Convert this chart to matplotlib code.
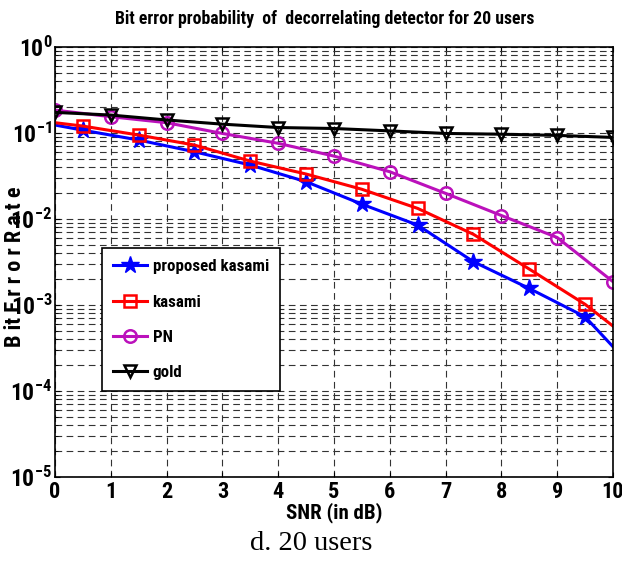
import numpy as np
import matplotlib
matplotlib.use('Agg')
import matplotlib.pyplot as plt
from matplotlib import font_manager
from matplotlib.ticker import FixedLocator, FuncFormatter, LogLocator, NullFormatter

# look for a narrow / condensed sans (the MATLAB export uses Arial Narrow-ish text)
narrow = None
stretch = 'normal'
flist = font_manager.fontManager.ttflist
for want in ['Liberation Sans Narrow', 'Roboto Condensed', 'Open Sans Condensed',
             'Noto Sans Condensed', 'DejaVu Sans Condensed']:
    if any(f.name == want for f in flist):
        narrow = want
        break
if narrow is None:
    for fam in ['Noto Sans', 'Roboto', 'Open Sans', 'DejaVu Sans']:
        if any(f.name == fam and f.stretch in ('condensed', 'semi-condensed')
               for f in flist):
            narrow = fam
            stretch = 'condensed'
            break
if narrow is None:
    narrow = 'Liberation Sans'
    scale = 0.82
else:
    scale = 1.0

plt.rcParams['font.family'] = [narrow, 'DejaVu Sans']
plt.rcParams['font.stretch'] = stretch
plt.rcParams['font.weight'] = 'bold'
plt.rcParams['mathtext.fontset'] = 'custom'
plt.rcParams['mathtext.rm'] = narrow
plt.rcParams['mathtext.bf'] = narrow + ':bold'

# data
snr_half = [0, 0.5, 1.5, 2.5, 3.5, 4.5, 5.5, 6.5, 7.5, 8.5, 9.5, 10]
snr_int = [0, 1, 2, 3, 4, 5, 6, 7, 8, 9, 10]
ber_proposed = [0.124, 0.108, 0.083, 0.0606, 0.0425, 0.0272, 0.0149, 0.0085,
                0.00319, 0.00156, 0.00073, 0.000328]
ber_kasami = [0.132, 0.1206, 0.0948, 0.0725, 0.0472, 0.0334, 0.0222, 0.0133,
              0.00664, 0.00262, 0.00102, 0.00057]
ber_pn = [0.185, 0.155, 0.132, 0.099, 0.076, 0.054, 0.0355, 0.0199, 0.011,
          0.0061, 0.00187]
ber_gold = [0.174, 0.162, 0.142, 0.127, 0.116, 0.113, 0.106, 0.099, 0.097,
            0.094, 0.089]
labels = ['proposed kasami', 'kasami', 'PN', 'gold']

fig = plt.figure(figsize=(6.22, 5.72), dpi=100)
ax = fig.add_axes([0.0884, 0.166, 0.8971, 0.7517])

lw = 2.2
ax.semilogy(snr_half, ber_proposed, color='blue', lw=lw, marker='*', ms=13,
            markevery=list(range(1, 11)), mec='blue', mfc='blue', label=labels[0])
ax.semilogy(snr_half, ber_kasami, color='red', lw=lw, marker='s', ms=9,
            markevery=list(range(1, 11)), mec='red', mfc='none', mew=1.8, label=labels[1])
ax.semilogy(snr_int, ber_pn, color='#BB11BB', lw=lw, marker='o', ms=9,
            mec='#BB11BB', mfc='none', mew=1.8, label=labels[2])
ax.semilogy(snr_int, ber_gold, color='black', lw=lw, marker='v', ms=9,
            mec='black', mfc='none', mew=1.8, label=labels[3])

ax.set_xlim(0, 10)
ax.set_ylim(1e-5, 1e0)
ax.xaxis.set_major_locator(FixedLocator(range(0, 11)))
ax.yaxis.set_major_locator(LogLocator(base=10, numticks=10))
ax.yaxis.set_minor_locator(LogLocator(base=10, subs=np.arange(2, 10), numticks=20))
ax.yaxis.set_minor_formatter(NullFormatter())
ax.yaxis.set_major_formatter(FuncFormatter(
    lambda v, p: r'$\mathbf{10^{%d}}$' % int(round(np.log10(v)))))

ax.grid(True, which='major', axis='both', color='0.2', lw=0.8, ls=(0, (6, 4)))
ax.grid(True, which='minor', axis='y', color='0.2', lw=0.8, ls=(0, (6, 4)))
ax.tick_params(which='both', direction='in', top=True, right=True)
ax.tick_params(axis='x', labelsize=16 * scale, pad=3)
ax.tick_params(axis='y', labelsize=17 * scale, pad=2)
for s in ax.spines.values():
    s.set_linewidth(1.2)

fig.text(325 / 622, 1 - 19 / 572,
         'Bit error probability  of  decorrelating detector for 20 users',
         fontsize=12.8 * scale, fontweight='bold', ha='center', va='center')
ax.set_xlabel('SNR (in dB)', fontsize=15 * scale, fontweight='bold', labelpad=-1)
ax.set_ylabel('B it E r r o r R a t e', fontsize=16 * scale, fontweight='bold')
ax.yaxis.set_label_coords(-0.052, 0.49)

leg = ax.legend(loc='upper left', bbox_to_anchor=(0.0837, 0.532), borderaxespad=0,
                fontsize=12.2 * scale, handlelength=2.0, labelspacing=1.2,
                handletextpad=0.35, borderpad=0.65, fancybox=False,
                framealpha=1, edgecolor='black')
leg.get_frame().set_linewidth(1.2)

fig.text(0.5, 1 - 543 / 572, 'd. 20 users', fontsize=20.5, fontweight='normal',
         family='Liberation Serif', stretch='normal', ha='center', va='center')

fig.savefig('out.png', dpi=100)
